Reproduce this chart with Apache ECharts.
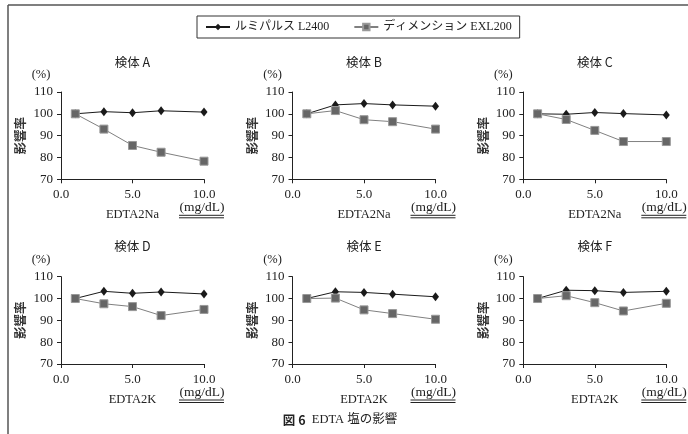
<!DOCTYPE html>
<html><head><meta charset="utf-8">
<script src="https://cdn.jsdelivr.net/npm/echarts@6/dist/echarts.min.js"></script>
<style>html,body{margin:0;padding:0;background:#fff}#c{width:688px;height:434px}</style>
</head><body><div id="c"></div>
<script>
const xValues = [1, 3, 5, 7, 10];
const seriesNames = ['ルミパルス L2400', 'ディメンション EXL200'];
const panelTitles = ['検体 A', '検体 B', '検体 C', '検体 D', '検体 E', '検体 F'];
const xNames = ['EDTA2Na', 'EDTA2Na', 'EDTA2Na', 'EDTA2K', 'EDTA2K', 'EDTA2K'];
const lumiA = [100, 101.0, 100.5, 101.4, 100.8];
const dimA  = [100, 93.0, 85.5, 82.4, 78.3];
const lumiB = [100, 104.1, 104.7, 104.1, 103.5];
const dimB  = [100, 101.5, 97.3, 96.4, 93.0];
const lumiC = [100, 99.8, 100.6, 100.1, 99.5];
const dimC  = [100, 97.4, 92.4, 87.3, 87.3];
const lumiD = [100, 103.3, 102.4, 103.0, 102.1];
const dimD  = [100, 97.6, 96.3, 92.2, 95.0];
const lumiE = [100, 103.1, 102.8, 102.0, 100.8];
const dimE  = [100, 100.2, 94.8, 93.1, 90.5];
const lumiF = [100, 103.8, 103.6, 102.8, 103.3];
const dimF  = [100, 101.3, 98.1, 94.3, 97.8];
const lumiAll = [lumiA, lumiB, lumiC, lumiD, lumiE, lumiF];
const dimAll = [dimA, dimB, dimC, dimD, dimE, dimF];
const yTicks = {min: 70, max: 110, interval: 10};
const xTicks = {min: 0, max: 10, interval: 5};
const unitText = '(mg/dL)';
const pctText = '(%)';
const yName = '影響率';
const captionLabel = '図 6';
const captionText = 'EDTA 塩の影響';

const SERIF = '"Liberation Serif", "Noto Sans CJK JP"';
const SANS = '"Noto Sans CJK JP"';
const lefts = [61, 292.5, 523.3];
const tops = [92, 276.7];
const W = 143, H = 87.3;

const grid = [], xAxis = [], yAxis = [], series = [], graphic = [];
for (let i = 0; i < 6; i++) {
  const L = lefts[i % 3], T = tops[Math.floor(i / 3)];
  grid.push({left: L, top: T, width: W, height: H, containLabel: false});
  xAxis.push({type: 'value', gridIndex: i, min: xTicks.min, max: xTicks.max, interval: xTicks.interval,
    name: xNames[i], nameLocation: 'middle', nameGap: 29,
    nameTextStyle: {fontFamily: SERIF, fontSize: 12.5, color: '#222'},
    axisLine: {show: true, onZero: false, lineStyle: {color: '#222', width: 1}},
    axisTick: {show: true, length: 4, lineStyle: {color: '#222'}},
    axisLabel: {fontFamily: SERIF, fontSize: 13, color: '#222', margin: 9, formatter: v => v.toFixed(1)},
    splitLine: {show: false}});
  yAxis.push({type: 'value', gridIndex: i, min: yTicks.min, max: yTicks.max, interval: yTicks.interval,
    name: yName, nameLocation: 'middle', nameRotate: 90, nameGap: 34,
    nameTextStyle: {fontFamily: SANS, fontSize: 12.5, fontWeight: 'bold', color: '#333'},
    axisLine: {show: true, lineStyle: {color: '#222', width: 1}},
    axisTick: {show: true, length: 4, lineStyle: {color: '#222'}},
    axisLabel: {fontFamily: SERIF, fontSize: 13, color: '#222', margin: 8},
    splitLine: {show: false}});
  series.push({name: seriesNames[0], type: 'line', xAxisIndex: i, yAxisIndex: i,
    data: xValues.map((x, k) => [x, lumiAll[i][k]]),
    symbol: 'diamond', symbolSize: [7, 9], itemStyle: {color: '#1a1a1a'},
    lineStyle: {color: '#1a1a1a', width: 1}, z: 2, animation: false});
  series.push({name: seriesNames[1], type: 'line', xAxisIndex: i, yAxisIndex: i,
    data: xValues.map((x, k) => [x, dimAll[i][k]]),
    symbol: 'rect', symbolSize: 8, itemStyle: {color: '#666', borderColor: '#999', borderWidth: 1},
    lineStyle: {color: '#808080', width: 1}, z: 3, animation: false});
  graphic.push({type: 'text', x: L + W / 2, y: T - 30,
    style: {text: panelTitles[i], font: '12.5px ' + SANS, fill: '#222', align: 'center', verticalAlign: 'middle'}});
  graphic.push({type: 'text', x: L - 20, y: T - 17,
    style: {text: pctText, font: '12.5px ' + SERIF, fill: '#222', align: 'center', verticalAlign: 'middle'}});
  const ux = L + W - 2, uy = T + H + 28;
  graphic.push({type: 'text', x: ux, y: uy,
    style: {text: unitText, font: '13.5px ' + SERIF, fill: '#222', align: 'center', verticalAlign: 'middle'}});
  graphic.push({type: 'line', shape: {x1: ux - 23, y1: uy + 8, x2: ux + 22, y2: uy + 8}, style: {stroke: '#222', lineWidth: 1}});
  graphic.push({type: 'line', shape: {x1: ux - 23, y1: uy + 10.5, x2: ux + 22, y2: uy + 10.5}, style: {stroke: '#222', lineWidth: 1}});
}
graphic.push({type: 'line', shape: {x1: 8, y1: 5, x2: 688, y2: 5}, style: {stroke: '#555', lineWidth: 1.5}});
graphic.push({type: 'line', shape: {x1: 8, y1: 5, x2: 8, y2: 434}, style: {stroke: '#555', lineWidth: 1.5}});
graphic.push({type: 'text', x: 340, y: 420,
  style: {text: '{b|' + captionLabel + '}  ' + captionText, font: '12.5px ' + SERIF, fill: '#222',
    align: 'center', verticalAlign: 'middle',
    rich: {b: {fontFamily: SANS, fontWeight: 'bold', fontSize: 12.5, fill: '#222'}}}});

const chart = echarts.init(document.getElementById('c'), null, {renderer: 'canvas'});
chart.setOption({
  animation: false,
  backgroundColor: '#fff',
  grid, xAxis, yAxis, series, graphic,
  legend: {data: seriesNames, left: 197, top: 16, orient: 'horizontal',
    itemWidth: 24, itemHeight: 8, itemGap: 24,
    padding: [5, 8, 5, 8], borderColor: '#333', borderWidth: 1,
    textStyle: {fontFamily: SERIF, fontSize: 12, color: '#222'}}
});
</script></body></html>
